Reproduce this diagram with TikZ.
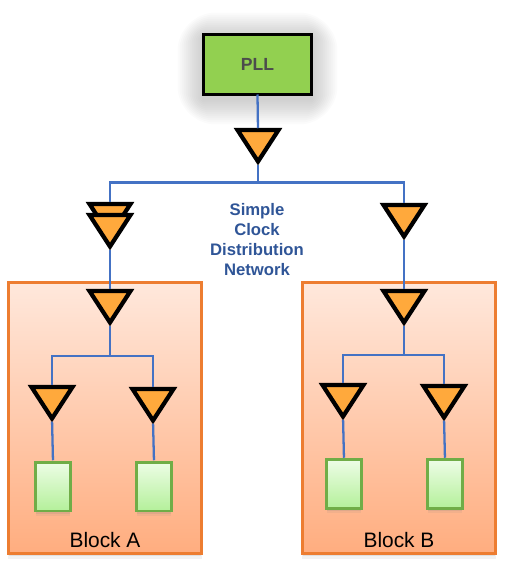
\documentclass[tikz,border=0pt]{standalone}
\usepackage{fontspec}
\setmainfont{Liberation Sans}
\usetikzlibrary{arrows.meta,positioning,shapes.geometric,shadows,backgrounds}
\definecolor{wire}{HTML}{4472C4}
\definecolor{bufferfill}{HTML}{FFA93C}
\definecolor{blockedge}{HTML}{ED7D31}
\definecolor{blocktop}{HTML}{FFE8DC}
\definecolor{blockbot}{HTML}{FFAD7F}
\definecolor{celledge}{HTML}{70AD47}
\definecolor{celltop}{HTML}{EDFDE6}
\definecolor{cellbot}{HTML}{B4F09A}
\definecolor{pllfill}{HTML}{92D050}
\definecolor{captionblue}{HTML}{2F5597}

\begin{document}
\begin{tikzpicture}[x=0.02cm,y=-0.02cm,
  softdrop/.style={
    drop shadow={shadow xshift=0pt,shadow yshift=-2.6pt,opacity=.10,shadow scale=1.01},
    drop shadow={shadow xshift=0pt,shadow yshift=-1.5pt,opacity=.16}},
  pllbox/.style={draw=black,line width=2pt,fill=pllfill,minimum width=2.16cm,minimum height=1.2cm,
    outer sep=0pt,text=black!70,font=\fontsize{10}{12}\selectfont\bfseries},
  blockbox/.style={draw=blockedge,line width=1.3pt,top color=blocktop,bottom color=blockbot,
    minimum width=3.86cm,minimum height=5.42cm,outer sep=0pt,softdrop},
  cell/.style={draw=celledge,line width=1.7pt,top color=celltop,bottom color=cellbot,
    minimum width=0.69cm,minimum height=0.98cm,outer sep=0pt,softdrop},
  buffer/.style={isosceles triangle,isosceles triangle stretches,shape border rotate=-90,
    draw=black,line width=2.4pt,fill=bufferfill,minimum width=0.82cm,minimum height=0.63cm,
    inner sep=0pt,outer sep=0pt,anchor=lower side},
  flow/.style={draw=wire,line width=1.3pt,shorten >=1pt,shorten <=1.8pt},
  blocklabel/.style={font=\fontsize{11.9}{14}\selectfont},
  caption/.style={text=captionblue,align=center,font=\fontsize{9.5}{11.4}\selectfont\bfseries}]
\useasboundingbox (0,0) rectangle (504,575);
\node[blockbox] (blocka) at (105,418) {};
\node[blockbox] (blockb) at (399,418) {};
\node[pllbox] (pll) at (257.5,64.5) {PLL};
\begin{scope}[on background layer]
\foreach \s in {2,4,...,26}
  \fill[black,opacity=.016,rounded corners=\s*0.03cm]
    ([shift={(-\s,-\s+4)}]pll.north west) rectangle ([shift={(\s,\s+4)}]pll.south east);
\end{scope}

\node[buffer] (root) at (258,130) {};
\node[buffer] (leftback) at (110,204) {};
\node[buffer] (leftfront) at (110,215) {};
\node[buffer] (rightbuf) at (404,205) {};
\node[buffer] (atop) at (110,291) {};
\node[buffer] (aleft) at (52,387) {};
\node[buffer] (aright) at (153,389) {};
\node[buffer] (btop) at (404,291) {};
\node[buffer] (bleft) at (343,385) {};
\node[buffer] (bright) at (444,386) {};

\node[cell] (acell1) at (53,486.5) {};
\node[cell] (acell2) at (154,486.5) {};
\node[cell] (bcell1) at (344,484) {};
\node[cell] (bcell2) at (445,484) {};

\coordinate (rootbus) at (258,182.5);
\coordinate (abus) at (110,356);
\coordinate (bbus) at (404,355);

\draw[flow,shorten <=0pt] (pll.south) -- (root.lower side);
\draw[flow,shorten >=0pt] (root.apex) -- (rootbus);
\draw[flow,shorten <=0pt] (rootbus) -| (leftback.lower side);
\draw[flow,shorten <=0pt] (rootbus) -| (rightbuf.lower side);
\draw[flow] (leftfront.apex) -- (atop.lower side);
\draw[flow] (rightbuf.apex) -- (btop.lower side);
\draw[flow,shorten >=0pt] (atop.apex) -- (abus);
\draw[flow,shorten <=0pt] (abus) -| (aleft.lower side);
\draw[flow,shorten <=0pt] (abus) -| (aright.lower side);
\draw[flow,shorten >=0pt] (btop.apex) -- (bbus);
\draw[flow,shorten <=0pt] (bbus) -| (bleft.lower side);
\draw[flow,shorten <=0pt] (bbus) -| (bright.lower side);
\draw[flow] (aleft.apex) -- (acell1.north);
\draw[flow] (aright.apex) -- (acell2.north);
\draw[flow] (bleft.apex) -- (bcell1.north);
\draw[flow] (bright.apex) -- (bcell2.north);

\node[caption] (netcaption) at (257,239.5) {Simple\\Clock\\Distribution\\Network};
\node[blocklabel] (alabel) at (105,540) {Block A};
\node[blocklabel] (blabel) at (399,540) {Block B};
\end{tikzpicture}
\end{document}
